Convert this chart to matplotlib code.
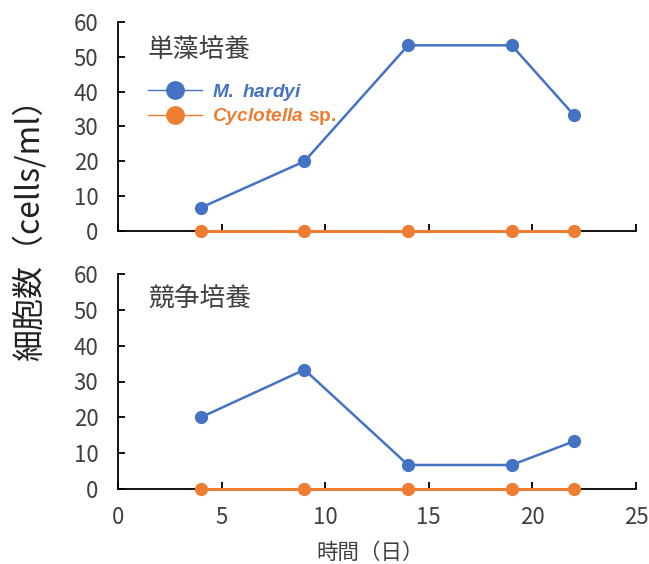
import matplotlib
matplotlib.use("Agg")
import matplotlib.pyplot as plt

plt.rcParams['font.family'] = ['Noto Sans CJK JP', 'DejaVu Sans']
plt.rcParams['mathtext.fontset'] = 'custom'
plt.rcParams['mathtext.it'] = 'Liberation Sans:italic:bold'
plt.rcParams['mathtext.rm'] = 'Liberation Sans:bold'

days = [4, 9, 14, 19, 22]
mono_hardyi = [6.7, 20, 53.3, 53.3, 33.3]
mono_cyclotella = [0, 0, 0, 0, 0]
comp_hardyi = [20, 33.3, 6.7, 6.7, 13.3]
comp_cyclotella = [0, 0, 0, 0, 0]
panel_titles = ["単藻培養", "競争培養"]
series_labels = [r"$\it{M.\ hardyi}$", r"$\it{Cyclotella}\ \rm{sp.}$"]
xlabel = "時間（日）"
ylabel = "細胞数（cells/ml）"

blue = "#4472C4"
orange = "#ED7D31"
txt = "#404040"

fig = plt.figure(figsize=(6.49, 5.64), dpi=100)
ax1 = fig.add_axes([118/649, 1-231/564, (636-118)/649, (231-22)/564])
ax2 = fig.add_axes([118/649, 1-489/564, (636-118)/649, (489-274)/564])

for ax, hy, cy, title, ty in [(ax1, mono_hardyi, mono_cyclotella, panel_titles[0], 0.866),
                              (ax2, comp_hardyi, comp_cyclotella, panel_titles[1], 0.884)]:
    ax.plot(days, hy, color=blue, lw=1.8, marker='o', ms=8.5, label=series_labels[0], zorder=4, clip_on=False)
    ax.plot(days, cy, color=orange, lw=2.2, marker='o', ms=8.5, label=series_labels[1], zorder=5, clip_on=False)
    ax.set_xlim(0, 25)
    ax.set_ylim(0, 60)
    ax.set_xticks([0, 5, 10, 15, 20, 25])
    ax.set_yticks(range(0, 61, 10))
    for s in ['top', 'right']:
        ax.spines[s].set_visible(False)
    for s in ['left', 'bottom']:
        ax.spines[s].set_color('black')
        ax.spines[s].set_linewidth(1.3)
    ax.tick_params(axis='x', direction='in', length=5, width=1.3, colors='black', labelcolor=txt, labelsize=16, pad=12)
    ax.tick_params(axis='y', direction='in', length=5, width=1.3, colors='black', labelcolor=txt, labelsize=16, pad=14)
    ax.text(0.058, ty, title, transform=ax.transAxes, fontsize=18.5, color=txt, va='center', ha='left')

ax1.tick_params(axis='x', labelbottom=False)

leg = ax1.legend(loc='upper left', bbox_to_anchor=(0.058, 0.72), frameon=False, fontsize=13.8,
                 handlelength=2.8, handletextpad=0.55, labelspacing=0.15, borderaxespad=0, borderpad=0)
for h in leg.get_lines():
    h.set_linewidth(1.0)
    h.set_markersize(12.5)
leg.get_texts()[0].set_color(blue)
leg.get_texts()[1].set_color(orange)

fig.text(29/649, 1-222/564, ylabel, rotation=90, ha='center', va='center', fontsize=23, color='#222222')
fig.text(370/649, 1-553/564, xlabel, ha='center', va='center', fontsize=15.5, color=txt)

fig.savefig("out.png", dpi=100)
